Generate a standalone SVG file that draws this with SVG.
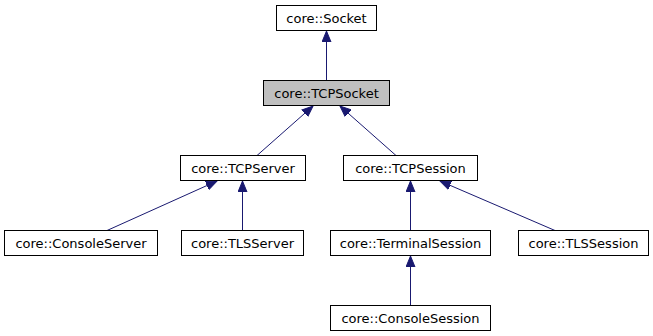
<svg xmlns="http://www.w3.org/2000/svg" width="653" height="336" viewBox="0 0 653 336">
<defs>
<style>
.box{fill:#ffffff;stroke:#000000;stroke-width:1}
.sel{fill:#bfbfbf}
.lbl{font-family:"DejaVu Sans",sans-serif;font-size:13px;fill:#000000;text-anchor:middle}
.edge{stroke:#191970;stroke-width:1;fill:none;marker-end:url(#ah)}
</style>
<marker id="ah" markerUnits="userSpaceOnUse" markerWidth="12" markerHeight="10" viewBox="0 -5 12 10" refX="11" refY="0" orient="auto">
<path d="M0,-4.5 L11,0 L0,4.5 z" fill="#191970" stroke="#191970" stroke-width="1"/>
</marker>
</defs>
<rect width="653" height="336" fill="#ffffff"/>
<g id="connectors">
<line class="edge" x1="326.5" y1="80.5" x2="326.5" y2="31"/>
<line class="edge" x1="257" y1="155.5" x2="313" y2="106"/>
<line class="edge" x1="396" y1="155.5" x2="340" y2="106"/>
<line class="edge" x1="107" y1="230.5" x2="217" y2="181"/>
<line class="edge" x1="242.5" y1="230.5" x2="242.5" y2="181"/>
<line class="edge" x1="410.5" y1="230.5" x2="410.5" y2="181"/>
<line class="edge" x1="555" y1="230.5" x2="440" y2="181"/>
<line class="edge" x1="410.5" y1="305.5" x2="410.5" y2="256"/>
</g>
<g id="node-socket">
<rect class="box" x="276.5" y="5.5" width="100" height="25"/>
<text class="lbl" x="326.5" y="22.5">core::Socket</text>
</g>
<g id="node-tcpsocket">
<rect class="box sel" x="263.5" y="80.5" width="126" height="25"/>
<text class="lbl" x="326.5" y="97.5">core::TCPSocket</text>
</g>
<g id="node-tcpserver">
<rect class="box" x="180.5" y="155.5" width="125" height="25"/>
<text class="lbl" x="243" y="172.5">core::TCPServer</text>
</g>
<g id="node-tcpsession">
<rect class="box" x="343.5" y="155.5" width="134" height="25"/>
<text class="lbl" x="410.5" y="172.5">core::TCPSession</text>
</g>
<g id="node-consoleserver">
<rect class="box" x="4.5" y="230.5" width="153" height="25"/>
<text class="lbl" x="81" y="247.5">core::ConsoleServer</text>
</g>
<g id="node-tlsserver">
<rect class="box" x="181.5" y="230.5" width="122" height="25"/>
<text class="lbl" x="242.5" y="247.5">core::TLSServer</text>
</g>
<g id="node-terminalsession">
<rect class="box" x="330.5" y="230.5" width="160" height="25"/>
<text class="lbl" x="410.5" y="247.5">core::TerminalSession</text>
</g>
<g id="node-tlssession">
<rect class="box" x="518.5" y="230.5" width="130" height="25"/>
<text class="lbl" x="583.5" y="247.5">core::TLSSession</text>
</g>
<g id="node-consolesession">
<rect class="box" x="330.5" y="305.5" width="160" height="25"/>
<text class="lbl" x="410.5" y="322.5">core::ConsoleSession</text>
</g>
</svg>
